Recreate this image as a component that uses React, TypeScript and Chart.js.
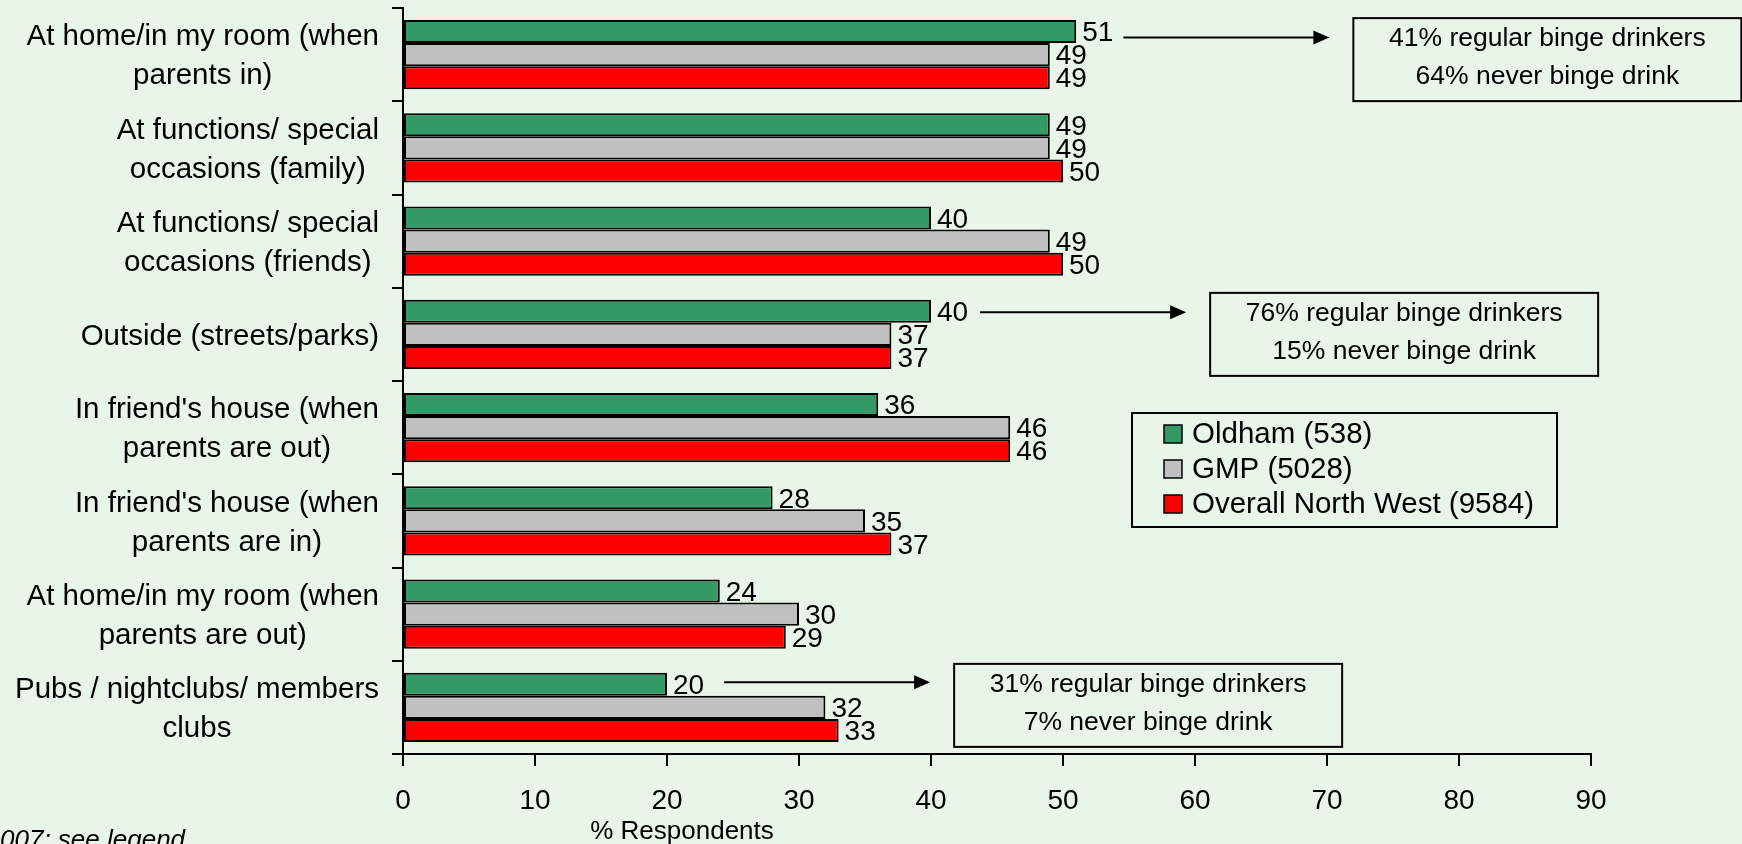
import React, { useEffect, useRef } from "react";
import { Chart, registerables } from "chart.js";

Chart.register(...registerables);

const categories: string[][] = [
  ["At home/in my room (when", "parents in)"],
  ["At functions/ special", "occasions (family)"],
  ["At functions/ special", "occasions (friends)"],
  ["Outside (streets/parks)"],
  ["In friend's house (when", "parents are out)"],
  ["In friend's house (when", "parents are in)"],
  ["At home/in my room (when", "parents are out)"],
  ["Pubs / nightclubs/ members", "clubs"],
];

const seriesNames = ["Oldham (538)", "GMP (5028)", "Overall North West (9584)"];
const oldham = [51, 49, 40, 40, 36, 28, 24, 20];
const gmp = [49, 49, 49, 37, 46, 35, 30, 32];
const northWest = [49, 50, 50, 37, 46, 37, 29, 33];

const xMin = 0;
const xMax = 90;
const xStep = 10;
const xTitle = "% Respondents";
const footnote = "007; see legend";

const noteCategory = [0, 3, 7];
const noteLines = [
  ["41% regular binge drinkers", "64% never binge drink"],
  ["76% regular binge drinkers", "15% never binge drink"],
  ["31% regular binge drinkers", "7% never binge drink"],
];

const COLORS = ["#339966", "#C0C0C0", "#FF0000"];
const BG = "#EAF5EA";
const FONT = "'Liberation Sans', Arial, sans-serif";

// annotation layout (pixels)
const noteArrowGap = [10, 12, 20];
const noteArrowDy = [6, 1, -2];
const noteBoxDy = [5, 0, -2];

const overlayPlugin = {
  id: "overlay",
  beforeDraw(chart: any) {
    const { ctx, width, height } = chart;
    ctx.save();
    ctx.fillStyle = BG;
    ctx.fillRect(0, 0, width, height);
    ctx.restore();
  },
  afterDraw(chart: any) {
    const { ctx, chartArea } = chart;
    const yScale = chart.scales.y;
    const xScale = chart.scales.x;
    ctx.save();
    ctx.fillStyle = "#000";
    ctx.strokeStyle = "#000";

    // category labels (block right-aligned, lines centred)
    ctx.font = `29.5px ${FONT}`;
    ctx.textAlign = "center";
    ctx.textBaseline = "middle";
    const labelRight = chartArea.left - 24;
    categories.forEach((lines, i) => {
      const yc = yScale.getPixelForValue(i);
      const w = Math.max(...lines.map((l) => ctx.measureText(l).width));
      const cx = labelRight - w / 2;
      lines.forEach((l, j) => {
        ctx.fillText(l, cx, yc + 2 + (j - (lines.length - 1) / 2) * 39);
      });
    });

    // data labels
    ctx.font = `28px ${FONT}`;
    ctx.textAlign = "left";
    const labelEnds: number[][] = [];
    chart.data.datasets.forEach((ds: any, di: number) => {
      const meta = chart.getDatasetMeta(di);
      labelEnds[di] = [];
      meta.data.forEach((bar: any, i: number) => {
        const txt = String(ds.data[i]);
        const x = bar.x + 6;
        ctx.fillText(txt, x, bar.y + 2);
        labelEnds[di][i] = x + ctx.measureText(txt).width;
      });
    });

    // arrows and note boxes
    const greenMeta = chart.getDatasetMeta(0);
    noteCategory.forEach((ci, k) => {
      const bar: any = greenMeta.data[ci];
      const ay = bar.y + noteArrowDy[k];
      const ax0 = labelEnds[0][ci] + noteArrowGap[k];
      const ax1 = ax0 + 206;
      ctx.lineWidth = 2;
      ctx.beginPath();
      ctx.moveTo(ax0, ay);
      ctx.lineTo(ax1 - 14, ay);
      ctx.stroke();
      ctx.beginPath();
      ctx.moveTo(ax1, ay);
      ctx.lineTo(ax1 - 16, ay - 7);
      ctx.lineTo(ax1 - 16, ay + 7);
      ctx.closePath();
      ctx.fill();

      const bx = ax1 + 24;
      const bw = 388;
      const bh = 83;
      const cyc = yScale.getPixelForValue(ci) + noteBoxDy[k];
      const by = cyc - bh / 2;
      ctx.lineWidth = 2;
      ctx.strokeRect(bx, by, bw, bh);
      ctx.font = `26.5px ${FONT}`;
      ctx.textAlign = "center";
      ctx.textBaseline = "middle";
      ctx.fillText(noteLines[k][0], bx + bw / 2, cyc - 21);
      ctx.fillText(noteLines[k][1], bx + bw / 2, cyc + 17);
      ctx.textAlign = "left";
    });

    // legend
    const lx = chartArea.left + 729;
    const ly = chartArea.top + 405;
    ctx.lineWidth = 2;
    ctx.strokeRect(lx, ly, 425, 114);
    ctx.font = `29.5px ${FONT}`;
    ctx.textAlign = "left";
    ctx.textBaseline = "middle";
    chart.data.datasets.forEach((ds: any, di: number) => {
      const ry = ly + 21 + di * 35;
      ctx.fillStyle = ds.backgroundColor;
      ctx.fillRect(lx + 32, ry - 9, 18, 18);
      ctx.lineWidth = 1.5;
      ctx.strokeRect(lx + 32, ry - 9, 18, 18);
      ctx.fillStyle = "#000";
      ctx.fillText(ds.label, lx + 60, ry + 1);
    });

    // axis title
    ctx.font = `26px ${FONT}`;
    ctx.textAlign = "center";
    ctx.textBaseline = "middle";
    ctx.fillText(xTitle, chartArea.left + 279, xScale.bottom - 12);

    // footnote (partly off-canvas as in original)
    ctx.font = `italic 26px ${FONT}`;
    ctx.textAlign = "left";
    ctx.textBaseline = "alphabetic";
    ctx.fillText(footnote, 0, 848);
    ctx.restore();
  },
};

export default function App() {
  const canvasRef = useRef<HTMLCanvasElement | null>(null);

  useEffect(() => {
    const canvas = canvasRef.current;
    if (!canvas) return;
    const chart = new Chart(canvas, {
      type: "bar",
      data: {
        labels: categories.map((c) => c.join(" ")),
        datasets: [oldham, gmp, northWest].map((d, i) => ({
          label: seriesNames[i],
          data: d,
          backgroundColor: COLORS[i],
          borderColor: "#000",
          borderWidth: 2,
          borderSkipped: false,
          categoryPercentage: 0.74,
          barPercentage: 1.0,
        })),
      },
      options: {
        indexAxis: "y",
        responsive: false,
        animation: false,
        devicePixelRatio: 1,
        layout: { padding: { left: 0, top: 8, right: 151, bottom: 0 } },
        plugins: {
          legend: { display: false },
          tooltip: { enabled: false },
          title: { display: false },
        },
        scales: {
          y: {
            type: "category",
            ticks: { display: false },
            grid: {
              display: true,
              drawOnChartArea: false,
              drawTicks: true,
              tickLength: 11,
              color: "#000",
              lineWidth: 2,
              offset: true,
            },
            border: { display: true, color: "#000", width: 2 },
            afterFit: (scale: any) => {
              scale.width = 403;
            },
          },
          x: {
            type: "linear",
            min: xMin,
            max: xMax,
            ticks: {
              stepSize: xStep,
              color: "#000",
              font: { family: FONT, size: 28 },
              padding: 18,
              maxRotation: 0,
            },
            grid: {
              display: true,
              drawOnChartArea: false,
              drawTicks: true,
              tickLength: 12,
              color: "#000",
              lineWidth: 2,
            },
            border: { display: true, color: "#000", width: 2 },
            afterFit: (scale: any) => {
              scale.height = 90;
            },
          },
        },
      },
      plugins: [overlayPlugin],
    } as any);
    return () => chart.destroy();
  }, []);

  return (
    <div
      style={{
        position: "fixed",
        left: 0,
        top: 0,
        width: 1742,
        height: 844,
        background: BG,
        overflow: "hidden",
      }}
    >
      <canvas ref={canvasRef} width={1742} height={844} style={{ display: "block", width: 1742, height: 844 }} />
    </div>
  );
}
